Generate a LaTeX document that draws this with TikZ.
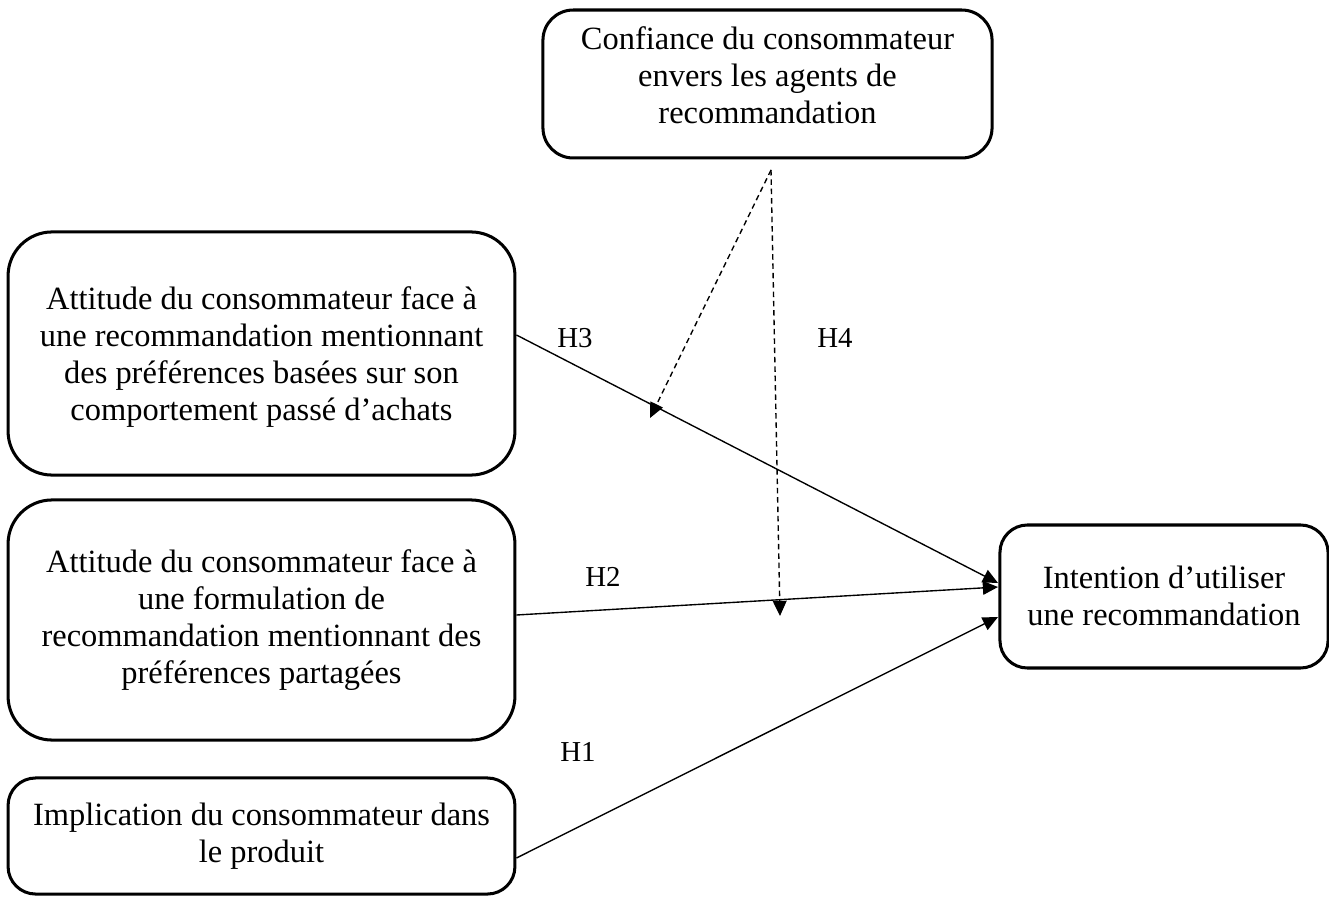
\documentclass[tikz,border=0pt]{standalone}
\usepackage{fontspec}
\setmainfont{Liberation Serif}
\usetikzlibrary{arrows.meta}
\begin{document}
\begin{tikzpicture}[x=0.3636pt,y=-0.3636pt,
  frame/.style={draw,line width=1.1pt,inner sep=0pt},
  txt/.style={align=center,inner sep=0pt,font=\fontsize{11.8pt}{13.5pt}\selectfont},
  link/.style={line width=0.5pt,-{Triangle[length=5.5pt,width=5pt]}},
  dlink/.style={link,dash pattern=on 2pt off 1.4pt},
  lbl/.style={font=\fontsize{10.5pt}{12pt}\selectfont,inner sep=0pt}]
\useasboundingbox (0,0) rectangle (1329,897);

% framed boxes
\node[frame,rounded corners=11pt,minimum width=163.3pt,minimum height=53.8pt] (conf) at (767.5,84) {};
\node[frame,rounded corners=16pt,minimum width=184.3pt,minimum height=88.4pt] (att1) at (261.5,353.5) {};
\node[frame,rounded corners=16pt,minimum width=184.3pt,minimum height=87.3pt] (att2) at (261.5,620) {};
\node[frame,rounded corners=10pt,minimum width=184.3pt,minimum height=42.2pt] (impl) at (261.5,836) {};
\node[frame,rounded corners=10pt,minimum width=119.3pt,minimum height=52pt] (inten) at (1164,596.5) {};

% box texts
\node[txt] (conft) at (767.5,75)
  {Confiance du consommateur\\envers les agents de\\recommandation};
\node[txt] (att1t) at (261.5,357)
  {Attitude du consommateur face à\\une recommandation mentionnant\\des préférences basées sur son\\comportement passé d’achats};
\node[txt] (att2t) at (261.5,620)
  {Attitude du consommateur face à\\une formulation de\\recommandation mentionnant des\\préférences partagées};
\node[txt] (implt) at (261.5,836)
  {Implication du consommateur dans\\le produit};
\node[txt] (intent) at (1164,596)
  {Intention d’utiliser\\une recommandation};

% connector end points on the box borders
\coordinate (a1out) at (att1.east |- 0,335);
\coordinate (a2out) at (att2.east |- 0,615);
\coordinate (imout) at (impl.east |- 0,858);
\coordinate (in3) at (998,583);
\coordinate (in2) at (998,587);
\coordinate (in1) at (998,617);
\coordinate (cfout) at (771,170);
\coordinate (onh3) at (650,418);
\coordinate (onh2) at (780,616);

\draw[link] (a1out) -- (in3);
\draw[link] (a2out) -- (in2);
\draw[link] (imout) -- (in1);
\draw[dlink] (cfout) -- (onh3);
\draw[dlink] (cfout) -- (onh2);

% hypothesis labels
\node[lbl] (h3) at (575,338) {H3};
\node[lbl] (h4) at (835,338) {H4};
\node[lbl] (h2) at (603,577) {H2};
\node[lbl] (h1) at (578,752) {H1};
\end{tikzpicture}
\end{document}
